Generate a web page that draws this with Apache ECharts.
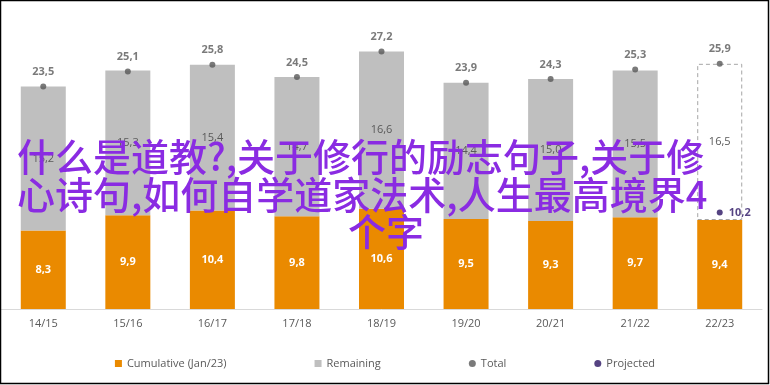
<!DOCTYPE html>
<html>
<head>
<meta charset="utf-8">
<script src="https://cdn.jsdelivr.net/npm/echarts@6/dist/echarts.min.js"></script>
<style>
html,body{margin:0;padding:0;background:#fff;}
#chart{width:770px;height:385px;}
</style>
</head>
<body>
<div id="chart"></div>
<script>
const categories = ['14/15','15/16','16/17','17/18','18/19','19/20','20/21','21/22','22/23'];
const cumulative = [8.3, 9.9, 10.4, 9.8, 10.6, 9.5, 9.3, 9.7, 9.4];
const remaining = [15.2, 15.3, 15.4, 14.7, 16.6, 14.4, 15.0, 15.5, 16.5];
const total = [23.5, 25.1, 25.8, 24.5, 27.2, 23.9, 24.3, 25.3, 25.9];
const projected = [null, null, null, null, null, null, null, null, 10.2];
const overlayLines = ['什么是道教?,关于修行的励志句子,关于修', '心诗句,如何自学道家法术,人生最高境界4', '个字'];

const fmt = v => String(v.toFixed(1)).replace('.', ',');
const FONT = 'Open Sans';
const textGray = '#595959';
const OVERLAY_FONT = '500 38px "Noto Sans CJK SC"';

const chart = echarts.init(document.getElementById('chart'));
const remainingData = remaining.map((v, i) => {
  if (i === remaining.length - 1) {
    return { value: v, itemStyle: { color: '#ffffff', borderColor: '#a6a6a6', borderWidth: 1, borderType: [4, 3] } };
  }
  return { value: v };
});

chart.setOption({
  animation: false,
  textStyle: { fontFamily: FONT },
  grid: { left: 1, right: 8, top: 25, bottom: 76 },
  legend: {
    bottom: 11,
    left: 'center',
    itemGap: 88,
    itemWidth: 7,
    itemHeight: 7,
    textStyle: { color: textGray, fontSize: 11, fontFamily: FONT },
    data: [
      { name: 'Cumulative (Jan/23)', icon: 'rect' },
      { name: 'Remaining', icon: 'rect' },
      { name: 'Total', icon: 'circle' },
      { name: 'Projected', icon: 'circle' }
    ]
  },
  xAxis: {
    type: 'category',
    data: categories,
    axisLine: { lineStyle: { color: '#d9d9d9', width: 1 } },
    axisTick: { show: false },
    axisLabel: { color: textGray, fontSize: 11, margin: 9, fontFamily: FONT }
  },
  yAxis: { type: 'value', min: 0, max: 30, show: false, splitLine: { show: false } },
  series: [
    {
      name: 'Cumulative (Jan/23)', type: 'bar', stack: 's', barWidth: 45,
      itemStyle: { color: '#ea8a00' },
      label: { show: true, position: 'inside', color: '#ffffff', fontWeight: 'bold', fontSize: 11, formatter: p => fmt(p.value) },
      data: cumulative
    },
    {
      name: 'Remaining', type: 'bar', stack: 's', barWidth: 45,
      itemStyle: { color: '#bfbfbf' },
      label: { show: true, position: 'inside', color: textGray, fontSize: 11, formatter: p => fmt(p.value) },
      data: remainingData
    },
    {
      name: 'Total', type: 'scatter', symbol: 'circle', symbolSize: 6,
      itemStyle: { color: '#595959' },
      label: { show: true, position: 'top', distance: 6, color: textGray, fontWeight: 'bold', fontSize: 11, formatter: p => fmt(p.value) },
      data: total, z: 5
    },
    {
      name: 'Projected', type: 'scatter', symbol: 'circle', symbolSize: 6,
      itemStyle: { color: '#2a1463' },
      label: { show: true, position: 'right', distance: 6, color: '#2a1463', fontWeight: 'bold', fontSize: 11, formatter: p => fmt(p.value) },
      data: projected, z: 5
    }
  ],
  graphic: [
    { type: 'rect', shape: { x: 0.5, y: 0.5, width: 768, height: 383 }, style: { fill: 'none', stroke: '#000', lineWidth: 1.5 }, z: 100, silent: true },
    { type: 'text', left: 17, top: 138, z: 100, style: { text: overlayLines[0], fill: '#8a2be2', font: OVERLAY_FONT } },
    { type: 'text', left: 17, top: 176, z: 100, style: { text: overlayLines[1], fill: '#8a2be2', font: OVERLAY_FONT } },
    { type: 'text', x: 386, y: 213, z: 100, style: { text: overlayLines[2], fill: '#8a2be2', font: OVERLAY_FONT, textAlign: 'center' } }
  ]
});
</script>
</body>
</html>
